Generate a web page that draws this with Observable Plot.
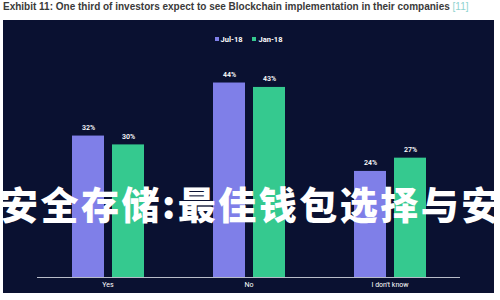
<!DOCTYPE html>
<html>
<head>
<meta charset="utf-8">
<script src="https://cdn.jsdelivr.net/npm/d3@7"></script>
<script src="https://cdn.jsdelivr.net/npm/@observablehq/plot@0.6"></script>
<style>
  html, body { margin: 0; padding: 0; background: #ffffff; }
  #wrap { position: relative; width: 500px; height: 300px; overflow: hidden; font-family: Roboto, "Noto Sans", sans-serif; }
  #title { position: absolute; left: 3px; top: 1px; font-family: "Liberation Sans", Arial, sans-serif; font-size: 10px; font-weight: 700; color: #3a3a3a; white-space: nowrap; }
  #title span { color: #8fd3cf; font-weight: 400; }
  #panel { position: absolute; left: 3px; top: 20px; width: 491px; height: 273px; background: #0a1131; }
  #legend { position: absolute; left: 0; width: 491px; top: 15px; text-align: center; font-size: 7.5px; font-weight: 700; color: #ffffff; }
  #legend .sw { display: inline-block; width: 4px; height: 4px; margin-right: 2px; vertical-align: middle; position: relative; top: -1px; }
  #legend .item { margin: 0 5px; }
  #overlay { position: absolute; left: 0; top: 180px; font-family: "Noto Sans CJK SC", sans-serif; font-weight: 900; font-size: 38px; line-height: 46px; color: #ffffff; white-space: nowrap; letter-spacing: 2.5px; }
</style>
</head>
<body>
<div id="wrap">
  <div id="title"></div>
  <div id="panel">
    <div id="legend"></div>
    <div id="plot"></div>
  </div>
  <div id="overlay"></div>
</div>
<script>
const titleText = "Exhibit 11: One third of investors expect to see Blockchain implementation in their companies";
const titleRef = "[11]";
const categories = ["Yes", "No", "I don't know"];
const seriesNames = ["Jul-18", "Jan-18"];
const jul18 = [32, 44, 24];
const jan18 = [30, 43, 27];
const seriesColors = ["#7f7fe8", "#35c98f"];
const overlayText = "安全存储:最佳钱包选择与安";

document.getElementById("title").innerHTML = titleText + " <span>" + titleRef + "</span>";
document.getElementById("overlay").textContent = overlayText;
document.getElementById("legend").innerHTML = seriesNames.map((s, i) =>
  `<span class="item"><span class="sw" style="background:${seriesColors[i]}"></span>${s}</span>`).join("");

const data = [];
categories.forEach((c, i) => {
  data.push({category: c, series: seriesNames[0], value: jul18[i]});
  data.push({category: c, series: seriesNames[1], value: jan18[i]});
});

const chart = Plot.plot({
  width: 491,
  height: 273,
  marginLeft: 34,
  marginRight: 34,
  marginTop: 36,
  marginBottom: 16,
  style: { background: "transparent", color: "#ffffff", fontFamily: "Roboto, 'Noto Sans', sans-serif", fontSize: "7px" },
  fx: { domain: categories, padding: 0, label: null, axis: "bottom", tickSize: 0, tickPadding: 5 },
  x: { domain: seriesNames, paddingInner: 0.2, paddingOuter: 0.86, axis: null },
  y: { domain: [0, 50], axis: null },
  color: { domain: seriesNames, range: seriesColors },
  marks: [
    Plot.barY(data, { fx: "category", x: "series", y: "value", fill: "series" }),
    Plot.ruleY([0], { stroke: "#b8bcc8", strokeWidth: 1 }),
    Plot.text(data, { fx: "category", x: "series", y: "value", text: d => d.value + "%", dy: -6, lineAnchor: "bottom", fill: "#ffffff", fontSize: 7, fontWeight: 600 })
  ]
});
document.getElementById("plot").appendChild(chart);
</script>
</body>
</html>
